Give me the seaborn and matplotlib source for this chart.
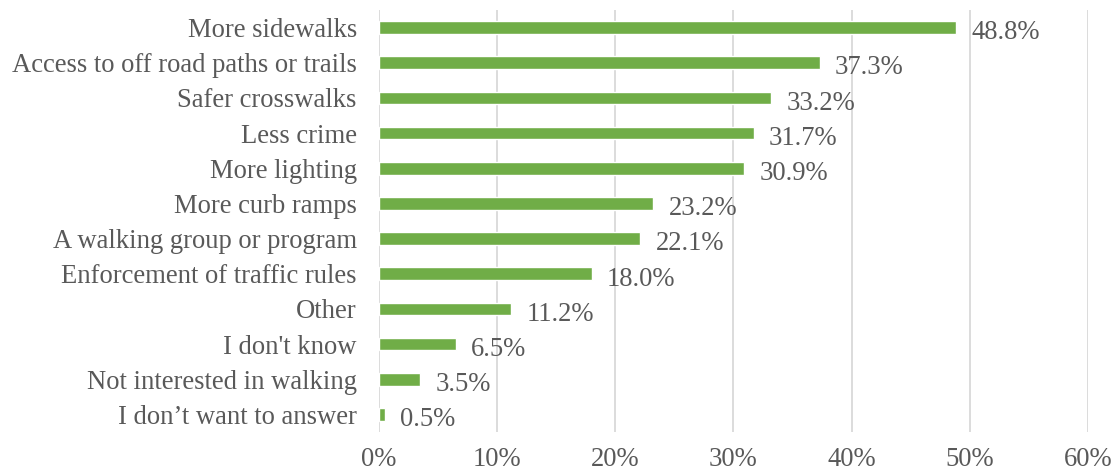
import pandas as pd
import seaborn as sns
import matplotlib.pyplot as plt
from matplotlib.ticker import PercentFormatter

categories = [
    "More sidewalks",
    "Access to off road paths or trails",
    "Safer crosswalks",
    "Less crime",
    "More lighting",
    "More curb ramps",
    "A walking group or program",
    "Enforcement of traffic rules",
    "Other",
    "I don't know",
    "Not interested in walking",
    "I don\u2019t want to answer",
]
values = [48.8, 37.3, 33.2, 31.7, 30.9, 23.2, 22.1, 18.0, 11.2, 6.5, 3.5, 0.5]
x_ticks = [0, 10, 20, 30, 40, 50, 60]

df = pd.DataFrame({"category": categories, "pct": values})

sns.set_style("white")
plt.rcParams["font.family"] = ["Liberation Serif", "DejaVu Serif"]
text_color = "#595959"
fs = 19.2

fig = plt.figure(figsize=(11.16, 4.74), dpi=100)
ax = fig.add_axes([0.3396, 0.0886, 0.6353, 0.8904])

sns.barplot(data=df, x="pct", y="category", orient="h", color="#70AD47",
            saturation=1, width=0.36, ax=ax)

# value labels right of each bar
for i, v in enumerate(values):
    ax.text(v + 1.3, i + 0.15, f"{v:.1f}%", va="center", ha="left",
            fontsize=fs, color=text_color)

ax.set_xlim(0, 60)
ax.set_ylim(len(categories) - 0.5, -0.5)
ax.set_xticks(x_ticks)
ax.xaxis.set_major_formatter(PercentFormatter(decimals=0))
ax.grid(axis="x", color="#d9d9d9", linewidth=1.3)
ax.set_axisbelow(True)
for s in ax.spines.values():
    s.set_visible(False)
ax.tick_params(axis="x", length=0, pad=11, labelsize=fs, labelcolor=text_color)
ax.tick_params(axis="y", length=0, pad=16, labelsize=fs, labelcolor=text_color)
ax.set_xlabel("")
ax.set_ylabel("")

fig.savefig("out.png", dpi=100)
